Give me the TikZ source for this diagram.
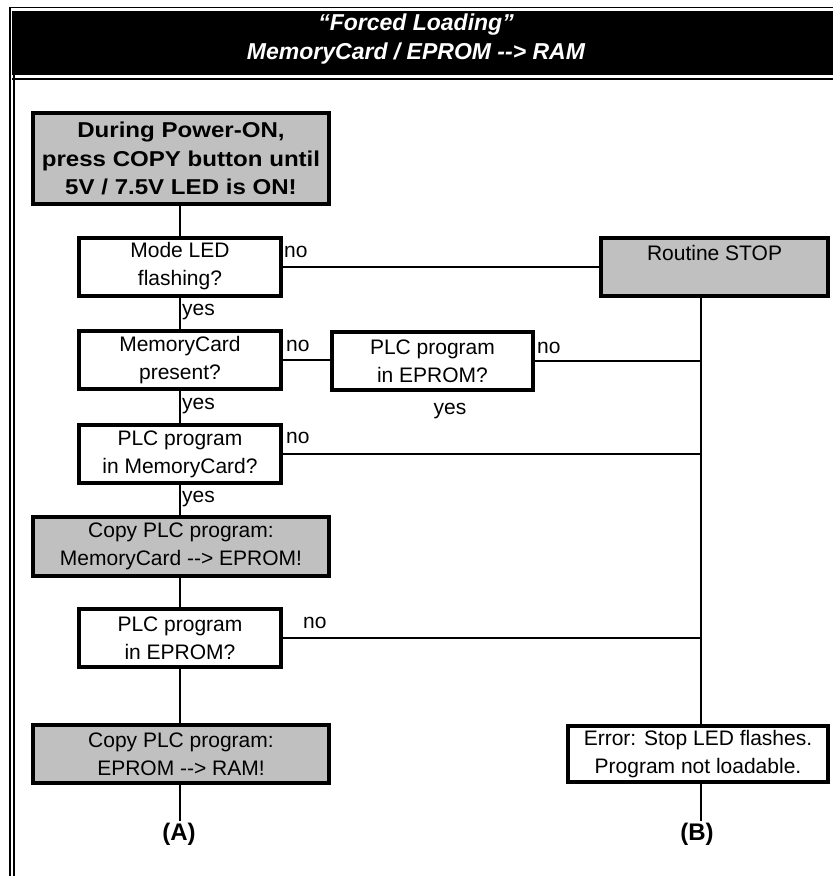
\documentclass[tikz,border=0pt]{standalone}
\usepackage{fontspec}
\setmainfont{Liberation Sans}
\newfontfamily\wideb[FakeStretch=1.12]{Liberation Sans}
\definecolor{boxgray}{RGB}{192,192,192}
\newcommand{\dd}{-\kern0pt-}
\begin{document}
\begin{tikzpicture}[x=1pt,y=-1pt,
  box/.style={draw, line width=4pt, minimum width=202pt, minimum height=58pt,
    inner sep=0pt, align=center, font=\fontsize{21}{28}\selectfont},
  bigbox/.style={box, minimum width=296pt, minimum height=59pt},
  graybox/.style={fill=boxgray},
  conn/.style={line width=2pt},
  lbl/.style={anchor=west, inner sep=0pt, font=\fontsize{21}{25}\selectfont},
  endlbl/.style={inner sep=2pt, font=\bfseries\fontsize{24}{28}\selectfont}
  ]
\useasboundingbox (0,0) rectangle (833,876);
% frame and header
\fill[black] (12,11) rectangle (833,75);
\draw[line width=1.5pt] (10,876) -- (10,7.7) -- (833,7.7);
\draw[line width=2pt] (14,876) -- (14,75);
\draw[line width=2pt] (12,79) -- (833,79);
\node[text=white, align=center, inner sep=0pt,
  font=\bfseries\itshape\fontsize{23}{29}\selectfont] (title) at (416,39.5)
  {“Forced Loading”\\MemoryCard / EPROM \dd> RAM};

% boxes
\node[bigbox, graybox, minimum height=91pt, font=\wideb\bfseries\fontsize{21.5}{28.5}\selectfont]
  (start) at (181,158.5) {During Power-ON,\\press COPY button until\\5V / 7.5V LED is ON!};
\node[box] (mode) at (180,266.5) {Mode LED\\flashing?};
\node[box, graybox, minimum width=227pt] (stop) at (714.5,267) {Routine STOP\\~};
\node[box] (mc) at (180,360) {MemoryCard\\present?};
\node[box, minimum width=201pt] (plce1) at (432.5,361) {PLC program\\in EPROM?};
\node[box] (plcmc) at (180,454) {PLC program\\in MemoryCard?};
\node[bigbox, graybox] (copy1) at (181,546.5) {Copy PLC program:\\MemoryCard \dd> EPROM!};
\node[box] (plce2) at (180,638) {PLC program\\in EPROM?};
\node[bigbox, graybox, minimum height=58pt] (copy2) at (181,754) {Copy PLC program:\\EPROM \dd> RAM!};
\node[box, minimum width=260pt, minimum height=56pt] (err) at (698,754) {Error: Stop LED flashes.\\Program not loadable.};

\node[endlbl] (A) at (179,834) {(A)};
\node[endlbl] (B) at (697,834) {(B)};
\coordinate (t) at (701,0);

% main vertical flow
\draw[conn] (mode.north) -- (mode.north |- start.south);
\draw[conn] (mode.south) -- (mc.north);
\draw[conn] (mc.south) -- (plcmc.north);
\draw[conn] (plcmc.south) -- (plcmc.south |- copy1.north);
\draw[conn] (plce2.north) -- (plce2.north |- copy1.south);
\draw[conn] (plce2.south) -- (plce2.south |- copy2.north);
\draw[conn] (plce2.south |- copy2.south) -- (plce2.south |- A.north);

% no branches
\draw[conn] (mode.east) -- (mode.east -| stop.west);
\draw[conn] (mc.east) -- (mc.east -| plce1.west);
\draw[conn] (plce1.east) -- (plce1.east -| t);
\draw[conn] (plcmc.east) -- (plcmc.east -| t);
\draw[conn] (plce2.east) -- (plce2.east -| t);
\draw[conn] (t |- stop.south) -- (t |- err.north);
\draw[conn] (t |- err.south) -- (t |- B.north);

% labels
\node[lbl] (n1) at (284,252) {no};
\node[lbl] (y1) at (182,312) {yes};
\node[lbl] (n2) at (286,346) {no};
\node[lbl] (y2) at (182,406) {yes};
\node[lbl] (n3) at (537,348) {no};
\node[lbl, anchor=center] (y3) at (450,411) {yes};
\node[lbl] (n4) at (286,438) {no};
\node[lbl] (y4) at (182,499) {yes};
\node[lbl] (n5) at (303,623) {no};
\end{tikzpicture}
\end{document}
